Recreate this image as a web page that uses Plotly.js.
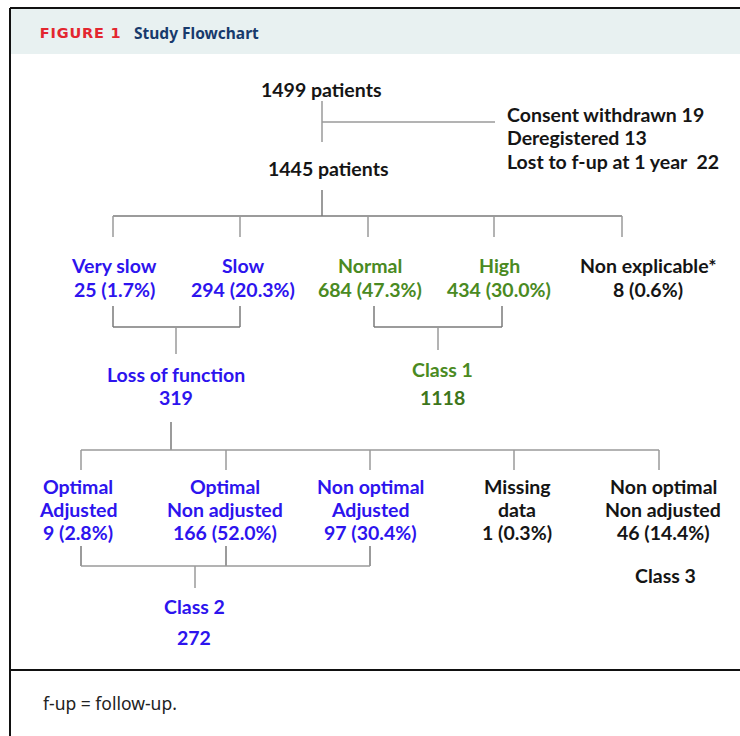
<!DOCTYPE html>
<html>
<head>
<meta charset="utf-8">
<script src="https://cdn.plot.ly/plotly-3.0.1.min.js"></script>
<style>
html,body{margin:0;padding:0;background:#fff;}#chart{width:740px;height:736px;}
g.annotation[data-index="0"] text{letter-spacing:0.8px;}
</style>
</head>
<body>
<div id="chart"></div>
<script>
// ---------- DATA ----------
const figureLabel = 'FIGURE 1';
const figureTitle = 'Study Flowchart';
const footnote = 'f-up = follow-up.';

const enrolledCounts = [1499, 1445];
const exclusionLabels = ['Consent withdrawn', 'Deregistered', 'Lost to f-up at 1 year '];
const exclusionCounts = [19, 13, 22];

const phenotypeLabels = ['Very slow', 'Slow', 'Normal', 'High', 'Non explicable*'];
const phenotypeCounts = [25, 294, 684, 434, 8];
const phenotypePct = [1.7, 20.3, 47.3, 30.0, 0.6];

const groupLabels = ['Loss of function', 'Class 1'];
const groupCounts = [319, 1118];

const dosingLabels = ['Optimal<br>Adjusted', 'Optimal<br>Non adjusted', 'Non optimal<br>Adjusted', 'Missing<br>data', 'Non optimal<br>Non adjusted'];
const dosingCounts = [9, 166, 97, 1, 46];
const dosingPct = [2.8, 52.0, 30.4, 0.3, 14.4];

const classLabels = ['Class 2', 'Class 3'];
const class2Count = 272;

// ---------- LAYOUT (positions / styles) ----------
const BLUE = '#2d14ee', GREEN = '#4a8a22', GREEN_D = '#3d761b', BLACK = '#151515';
const LINE = '#9a9a9a', LINE_D = '#7a7a7a';
const FONT = 'Lato, "Open Sans", sans-serif';
const FS = 19.5;

const phenX = [114, 243, 370, 499, 648];
const phenColor = [BLUE, BLUE, GREEN, GREEN, BLACK];
const dosX = [78, 225, 370, 517, 663];
const dosColor = [BLUE, BLUE, BLUE, BLACK, BLACK];

const fmtPct = v => v.toFixed(1) + '%';
const ann = [];
function txt(x, y, text, color, opts) {
  ann.push(Object.assign({
    x: x, y: y, xref: 'x', yref: 'y', text: text, showarrow: false,
    xanchor: 'center', yanchor: 'middle', align: 'center',
    font: {family: FONT, size: FS, color: color, weight: 700}
  }, opts || {}));
}

// header (index 0 gets letter-spacing via CSS)
txt(41, 33, figureLabel, '#e3262f', {xanchor: 'left', font: {family: '"DejaVu Sans", sans-serif', size: 14.5, color: '#e3262f', weight: 700}});
txt(132, 33, figureTitle, '#173a6c', {xanchor: 'left', font: {family: '"Noto Sans", sans-serif', size: 15.5, color: '#173a6c', weight: 700}});

// top
txt(321, 89, enrolledCounts[0] + ' patients', BLACK);
txt(328, 168, enrolledCounts[1] + ' patients', BLACK);
exclusionLabels.forEach((l, i) => txt(505, 114 + i * 23.5, l + ' ' + exclusionCounts[i], BLACK, {xanchor: 'left'}));

// phenotypes
phenotypeLabels.forEach((l, i) => {
  txt(phenX[i], 265, l, phenColor[i]);
  txt(phenX[i], 289, phenotypeCounts[i] + ' (' + fmtPct(phenotypePct[i]) + ')', phenColor[i]);
});

// groups
txt(176, 374, groupLabels[0], BLUE);
txt(176, 397, String(groupCounts[0]), BLUE);
txt(442, 369, groupLabels[1], GREEN);
txt(442, 397, String(groupCounts[1]), GREEN_D);

// dosing
dosingLabels.forEach((l, i) => {
  const parts = l.split('<br>');
  txt(dosX[i], 486, parts[0], dosColor[i]);
  txt(dosX[i], 509, parts[1], dosColor[i]);
  txt(dosX[i], 532, dosingCounts[i] + ' (' + fmtPct(dosingPct[i]) + ')', dosColor[i]);
});

// classes
txt(194, 606, classLabels[0], BLUE);
txt(194, 637, String(class2Count), BLUE);
txt(665, 575, classLabels[1], BLACK);

// footnote
txt(41, 703, footnote, '#222', {xanchor: 'left', font: {family: '"Noto Sans", sans-serif', size: 17.5, color: '#222', weight: 400}});

// ---------- SHAPES ----------
const shapes = [];
function seg(x0, y0, x1, y1, color, w) {
  shapes.push({type: 'line', xref: 'x', yref: 'y', x0: x0, y0: y0, x1: x1, y1: y1,
    line: {color: color || LINE, width: w || 1.5}, layer: 'above'});
}
// header box & frame
shapes.push({type: 'rect', xref: 'x', yref: 'y', x0: 10, y0: 8, x1: 742, y1: 54,
  fillcolor: '#e8f1f1', line: {width: 0}, layer: 'below'});
seg(10, 8, 742, 8, '#111', 2);
seg(10, 8, 10, 740, '#111', 2);
seg(10, 670, 742, 670, '#111', 2.2);

// top tree
seg(322, 101, 322, 142);
seg(322, 122, 495, 122);
seg(322, 190, 322, 216, LINE_D);
seg(113, 216, 622, 216, LINE_D);
[113, 240, 368, 494, 622].forEach(x => seg(x, 216, x, 237));
// bracket LOF
seg(113, 306, 113, 327, LINE_D); seg(240, 306, 240, 327, LINE_D);
seg(113, 327, 240, 327, LINE_D); seg(176, 327, 176, 354);
// bracket class 1
seg(374, 306, 374, 327, LINE_D); seg(502, 306, 502, 327, LINE_D);
seg(374, 327, 502, 327, LINE_D); seg(438, 327, 438, 350);
// LOF split
seg(171, 422, 171, 450, LINE_D);
seg(81, 450, 659, 450);
[81, 226, 370, 514, 659].forEach(x => seg(x, 450, x, 470));
// bracket class 2
seg(81, 546, 81, 566, LINE_D); seg(226, 546, 226, 566, LINE_D); seg(370, 546, 370, 566, LINE_D);
seg(81, 566, 370, 566); seg(195, 566, 195, 588);

const layout = {
  width: 740, height: 736,
  margin: {l: 0, r: 0, t: 0, b: 0},
  paper_bgcolor: '#fff', plot_bgcolor: '#fff',
  showlegend: false,
  xaxis: {range: [0, 740], visible: false, fixedrange: true},
  yaxis: {range: [736, 0], visible: false, fixedrange: true},
  annotations: ann,
  shapes: shapes
};
Plotly.newPlot('chart', [{x: [], y: [], type: 'scatter', mode: 'markers', hoverinfo: 'skip'}], layout, {staticPlot: true, displayModeBar: false});
</script>
</body>
</html>
